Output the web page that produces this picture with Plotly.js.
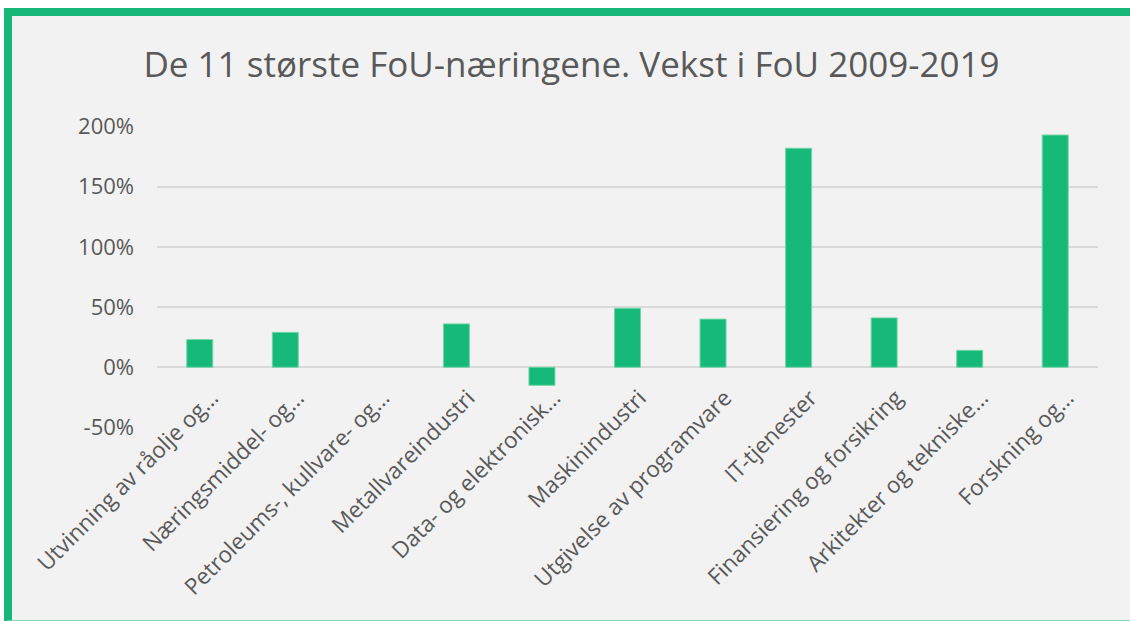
<!DOCTYPE html>
<html>
<head>
<meta charset="utf-8">
<script src="https://cdn.plot.ly/plotly-3.0.1.min.js"></script>
<style>
  html, body { margin: 0; padding: 0; background: #ffffff; }
  #frame {
    position: absolute; left: 4px; top: 8px; width: 1126px; height: 613px;
    box-sizing: border-box;
    background: #f2f2f2;
    border-left: 8px solid #17b877;
    border-top: 8px solid #17b877;
    border-bottom: 1px solid #7fd9b0;
  }
  #chart { position: absolute; left: 0; top: 0; width: 1130px; height: 621px; }
</style>
</head>
<body>
<div id="frame"></div>
<div id="chart"></div>
<script>
const categories = [
  "Utvinning av råolje og…",
  "Næringsmiddel- og…",
  "Petroleums-, kullvare- og…",
  "Metallvareindustri",
  "Data- og elektronisk…",
  "Maskinindustri",
  "Utgivelse av programvare",
  "IT-tjenester",
  "Finansiering og forsikring",
  "Arkitekter og tekniske…",
  "Forskning og…"
];
const growthPct = [23, 29, null, 36, -15, 49, 40, 182, 41, 14, 193];
const yTicks = [-50, 0, 50, 100, 150, 200];
const titleText = "De 11 største FoU-næringene. Vekst i FoU 2009-2019";

const yMin = -50, yMax = 200;
const plotTop = 126, plotBottom = 428;
const zeroFrac = (0 - (yMin - 0.5)) / ((yMax + 0.5) - (yMin - 0.5));

const trace = {
  type: 'bar',
  x: categories,
  y: growthPct,
  marker: { color: '#16b978', line: { color: '#6fd6a8', width: 1 } },
  hoverinfo: 'x+y'
};

const layout = {
  width: 1130, height: 621,
  paper_bgcolor: 'rgba(0,0,0,0)',
  plot_bgcolor: 'rgba(0,0,0,0)',
  margin: { l: 157, r: 32, t: plotTop, b: 621 - plotBottom, pad: 0 },
  showlegend: false,
  bargap: 0.696,
  title: {
    text: titleText,
    font: { family: 'Open Sans, sans-serif', size: 35, color: '#595959' },
    x: 0.4405, xanchor: 'center', xref: 'paper',
    y: 1 - 65 / 621, yanchor: 'middle'
  },
  xaxis: {
    type: 'category',
    anchor: 'free',
    position: zeroFrac,
    showgrid: false,
    showline: false,
    zeroline: false,
    ticks: '',
    tickangle: -45,
    ticklabelstandoff: 12,
    ticklabelshift: 12,
    tickfont: { family: 'Open Sans, sans-serif', size: 22.5, color: '#595959' },
    fixedrange: true
  },
  yaxis: {
    range: [yMin - 0.5, yMax + 0.5],
    tickmode: 'array',
    tickvals: yTicks,
    ticktext: yTicks.map(v => v + '%'),
    showgrid: true,
    gridcolor: '#d9d9d9',
    gridwidth: 2,
    zeroline: true,
    zerolinecolor: '#d9d9d9',
    zerolinewidth: 2,
    showline: false,
    ticks: '',
    ticklabelstandoff: 22,
    tickfont: { family: 'Open Sans, sans-serif', size: 22, color: '#595959' },
    fixedrange: true
  }
};

Plotly.newPlot('chart', [trace], layout, { displayModeBar: false, staticPlot: true });
</script>
</body>
</html>
